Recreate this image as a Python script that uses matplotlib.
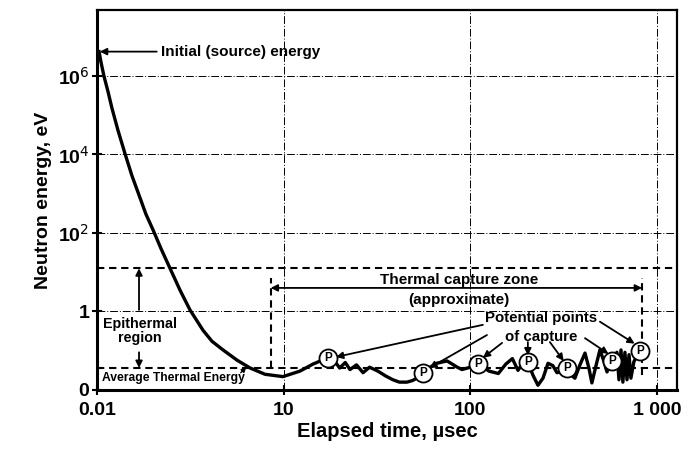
import matplotlib
matplotlib.use("Agg")
import matplotlib.pyplot as plt

plt.rcParams['font.family'] = ['Liberation Sans', 'DejaVu Sans']

# schematic axes: tick positions are evenly spaced, labels are the real values
x_ticks = [0, 1, 2, 3]
x_labels = ['0.01', '10', '100', '1 000']
y_ticks = [0, 1, 2, 3, 4]
y_labels = ['0', '1', '10$^2$', '10$^4$', '10$^6$']

# neutron energy path (positions on the schematic axes)
curve_x = [0.011, 0.021, 0.037, 0.059, 0.080, 0.112, 0.150, 0.187, 0.230, 0.262, 0.300, 0.343,
           0.391, 0.445, 0.498, 0.568, 0.616, 0.675, 0.750, 0.820, 0.900, 0.996, 1.087, 1.157, 1.237,
           1.275, 1.30, 1.33, 1.355, 1.39, 1.425, 1.46, 1.505, 1.545, 1.585,
           1.62, 1.66, 1.69, 1.72, 1.745, 1.785, 1.82, 1.875, 1.93, 1.955,
           2.0, 2.04, 2.07, 2.10, 2.15, 2.19, 2.225, 2.255, 2.28, 2.308,
           2.335, 2.362, 2.389, 2.416, 2.442, 2.464, 2.491, 2.517, 2.539, 2.560,
           2.587, 2.614, 2.635, 2.651, 2.673, 2.694, 2.716, 2.732, 2.758,
           2.785, 2.796, 2.807, 2.817, 2.828, 2.839, 2.850, 2.860, 2.876, 2.898, 2.91]
curve_y = [4.31, 4.18, 4.00, 3.80, 3.59, 3.31, 3.01, 2.73, 2.45, 2.24, 2.04, 1.80,
           1.55, 1.27, 1.02, 0.76, 0.62, 0.51, 0.38, 0.28, 0.20, 0.17, 0.24, 0.33, 0.41,
           0.36, 0.28, 0.35, 0.26, 0.32, 0.22, 0.29, 0.24, 0.18, 0.13,
           0.10, 0.10, 0.12, 0.16, 0.22, 0.29, 0.34, 0.37, 0.29, 0.26,
           0.29, 0.33, 0.29, 0.24, 0.21, 0.33, 0.40, 0.25, 0.34, 0.36,
           0.19, 0.06, 0.15, 0.34, 0.31, 0.22, 0.24, 0.28, 0.19, 0.15,
           0.32, 0.47, 0.28, 0.09, 0.31, 0.51, 0.36, 0.23, 0.37,
           0.48, 0.13, 0.51, 0.10, 0.48, 0.13, 0.45, 0.15, 0.36, 0.46, 0.50]

# potential capture points
p_x = [1.237, 1.745, 2.04, 2.308, 2.517, 2.758, 2.91]
p_y = [0.41, 0.22, 0.33, 0.36, 0.28, 0.37, 0.50]
# arrows from the label to each point (start, end)
p_arrows = [((2.067, 0.83), (1.28, 0.42)),
            ((2.089, 0.70), (1.78, 0.28)),
            ((2.17, 0.60), (2.067, 0.41)),
            ((2.308, 0.61), (2.308, 0.44)),
            ((2.426, 0.61), (2.50, 0.37)),
            ((2.614, 0.66), (2.74, 0.46)),
            ((2.694, 0.87), (2.88, 0.59))]

epithermal_top = 1.55
thermal_avg = 0.28
zone_left = 0.93
zone_right = 2.92
zone_y = 1.30

fig = plt.figure(figsize=(6.89, 4.51), dpi=100)
ax = fig.add_axes([0.1408, 0.1353, 0.8418, 0.8425])
ax.set_xlim(0, 3.107)
ax.set_ylim(0, 4.84)

grid = dict(color='black', lw=0.7, ls=(0, (8, 2, 1, 2)), zorder=1)
for yv in y_ticks[1:]:
    ax.axhline(yv, **grid)
for xv in x_ticks[1:]:
    ax.axvline(xv, **grid)

dash = dict(color='black', lw=1.5, ls=(0, (3.5, 2.3)), zorder=2)
ax.axhline(epithermal_top, **dash)
ax.axhline(thermal_avg, **dash)
ax.plot([zone_left, zone_left], [thermal_avg, 1.43], **dash)
ax.plot([zone_right, zone_right], [0.19, 1.43], **dash)

ax.plot(curve_x, curve_y, color='black', lw=2.4, solid_joinstyle='round', zorder=3)

ax.plot(p_x, p_y, 'o', ms=13, mfc='white', mec='black', mew=1.3, zorder=4)
for px, py in zip(p_x, p_y):
    ax.text(px, py, 'P', ha='center', va='center', fontsize=8.5, fontweight='bold', zorder=5)

arr = dict(arrowstyle='-|>', color='black', lw=1.3, mutation_scale=10, shrinkA=0, shrinkB=0)
for (x0, y0), (x1, y1) in p_arrows:
    ax.annotate('', xy=(x1, y1), xytext=(x0, y0), arrowprops=arr, zorder=6)

ax.text(2.378, 0.92, 'Potential points', ha='center', va='center', fontsize=10.8, fontweight='bold')
ax.text(2.378, 0.68, 'of capture', ha='center', va='center', fontsize=10.8, fontweight='bold')

# thermal capture zone
ax.annotate('', xy=(zone_left, zone_y), xytext=(1.9, zone_y), arrowprops=arr)
ax.annotate('', xy=(zone_right, zone_y), xytext=(1.9, zone_y), arrowprops=arr)
ax.text(1.94, 1.40, 'Thermal capture zone', ha='center', va='center', fontsize=11, fontweight='bold')
ax.text(1.94, 1.15, '(approximate)', ha='center', va='center', fontsize=11, fontweight='bold')

# initial energy
ax.annotate('', xy=(0.015, 4.31), xytext=(0.32, 4.31), arrowprops=arr)
ax.text(0.345, 4.31, 'Initial (source) energy', ha='left', va='center', fontsize=11, fontweight='bold')

# epithermal region
ax.annotate('', xy=(0.225, epithermal_top), xytext=(0.225, 1.02), arrowprops=arr)
ax.annotate('', xy=(0.225, thermal_avg), xytext=(0.225, 0.48), arrowprops=arr)
ax.text(0.23, 0.75, 'Epithermal\nregion', ha='center', va='center', fontsize=10.3,
        fontweight='bold', linespacing=1.05)

ax.text(0.027, 0.15, 'Average Thermal Energy', ha='left', va='center', fontsize=8.7, fontweight='bold')
ax.annotate('', xy=(0.80, 0.29), xytext=(0.77, 0.22), arrowprops=dict(arr, mutation_scale=7, lw=1))

ax.set_xticks(x_ticks)
ax.set_xticklabels(x_labels)
ax.set_yticks(y_ticks)
ax.set_yticklabels(y_labels)
ax.tick_params(direction='inout', length=7, width=1.5, labelsize=14)
ax.tick_params(axis='x', pad=5)
ax.tick_params(axis='y', pad=2)
for lab in ax.get_xticklabels() + ax.get_yticklabels():
    lab.set_fontweight('bold')

for s in ['left', 'bottom']:
    ax.spines[s].set_linewidth(2.2)
for s in ['top', 'right']:
    ax.spines[s].set_linewidth(1.6)

ax.set_xlabel('Elapsed time, \u00b5sec', fontsize=14.5, fontweight='bold', labelpad=2)
ax.set_ylabel('Neutron energy, eV', fontsize=14, fontweight='bold', labelpad=4)

fig.savefig('out.png', dpi=100)
